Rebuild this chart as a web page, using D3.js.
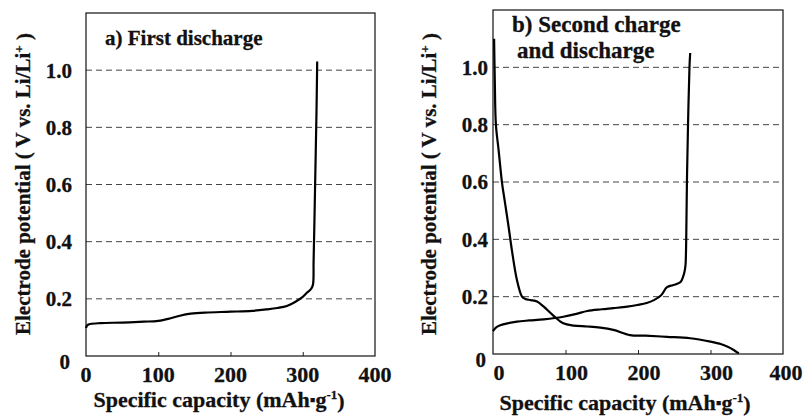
<!DOCTYPE html>
<html>
<head>
<meta charset="utf-8">
<script src="https://cdn.jsdelivr.net/npm/d3@7"></script>
<style>
  body { margin: 0; background: #fff; }
</style>
</head>
<body>
<div id="chart"></div>
<script>
// Data
//= ================================
var capTicks = [0, 100, 200, 300, 400];
var voltTicks = [0, 0.2, 0.4, 0.6, 0.8, 1.0];
var voltTickLabels = ["0", "0.2", "0.4", "0.6", "0.8", "1.0"];

// a) first discharge
var capFirst = [0, 2, 6, 20, 50, 80, 100, 117, 130, 145, 165, 200, 230, 250, 265, 278, 290, 300, 306, 311, 314, 315, 316, 317.5, 319, 320];
var voltFirst = [0.098, 0.108, 0.112, 0.115, 0.117, 0.12, 0.123, 0.132, 0.141, 0.148, 0.152, 0.155, 0.158, 0.163, 0.168, 0.175, 0.19, 0.207, 0.222, 0.233, 0.248, 0.33, 0.45, 0.65, 0.85, 1.03];

// b) second discharge (rising curve)
var capSecondDis = [0, 4, 10, 20, 33, 50, 70, 97, 115, 130, 150, 166, 185, 199, 212, 222, 232, 240, 248, 254, 259, 262, 264, 265.5, 266.5, 267.5, 269, 271, 272];
var voltSecondDis = [0.08, 0.092, 0.1, 0.107, 0.113, 0.117, 0.121, 0.13, 0.14, 0.15, 0.156, 0.16, 0.165, 0.171, 0.178, 0.188, 0.205, 0.233, 0.24, 0.245, 0.252, 0.268, 0.285, 0.31, 0.4, 0.6, 0.8, 1.0, 1.05];

// b) second charge (falling curve)
var capSecondCh = [1.5, 2.5, 4, 7.7, 12.4, 16, 21.5, 26, 33, 40, 44.5, 52, 60.7, 70, 83.6, 97, 111, 130, 148, 166, 189, 210, 240, 272, 300, 315, 323, 332, 339];
var voltSecondCh = [1.1, 0.95, 0.8, 0.712, 0.598, 0.537, 0.444, 0.363, 0.258, 0.2, 0.192, 0.188, 0.183, 0.165, 0.133, 0.107, 0.099, 0.096, 0.092, 0.084, 0.066, 0.064, 0.06, 0.055, 0.043, 0.034, 0.026, 0.014, 0.002];

var svgWidth = 805;
var svgHeight = 416;

var svg = d3.select("#chart")
  .append("svg")
  .attr("width", svgWidth)
  .attr("height", svgHeight)
  .style("font-family", "'Liberation Serif', 'Times New Roman', serif")
  .style("font-weight", "bold");

// Panel layout (pixel frames of the two plots)
//= ================================
var panels = [
  {
    left: 86, right: 375, top: 13, bottom: 356,
    yLabelX: 72, xLabelDx: 0, titleX: 105, titleSize: 21,
    titles: [{ y: 45, dx: 0, text: "a) First discharge" }],
    yTitleX: 23, xTitleX: 219, xTitleY: 407,
    series: [[capFirst, voltFirst]]
  },
  {
    left: 493, right: 783, top: 10, bottom: 354,
    yLabelX: 488, xLabelDx: 6, titleX: 512, titleSize: 23,
    titles: [{ y: 32, dx: 0, text: "b) Second charge" }, { y: 58, dx: 5, text: "and discharge" }],
    yTitleX: 429, xTitleX: 625, xTitleY: 410,
    series: [[capSecondDis, voltSecondDis], [capSecondCh, voltSecondCh]]
  }
];

panels.forEach(function (p) {

  var xScale = d3.scaleLinear()
    .domain([0, 400])
    .range([p.left, p.right]);

  var yScale = d3.scaleLinear()
    .domain([0, 1.2])
    .range([p.bottom, p.top]);

  var g = svg.append("g")
    .attr("fill", "#111")
    .attr("stroke-width", 0.3);

  // dashed grid lines
  g.selectAll(".grid")
    .data(voltTicks.slice(1))
    .enter()
    .append("line")
    .attr("x1", p.left)
    .attr("x2", p.right)
    .attr("y1", d => yScale(d))
    .attr("y2", d => yScale(d))
    .attr("stroke", "#444")
    .attr("stroke-width", 1)
    .attr("stroke-dasharray", "6,4");

  // bottom axis: small inward ticks, labels drawn separately
  var bottomAxis = d3.axisBottom(xScale)
    .tickValues(capTicks.slice(1, 4))
    .tickSizeInner(-4)
    .tickSizeOuter(0)
    .tickFormat("");

  var xAxis = g.append("g")
    .attr("transform", `translate(0, ${p.bottom})`)
    .call(bottomAxis);
  xAxis.select(".domain").remove();
  xAxis.selectAll("line").attr("stroke", "#222").attr("stroke-width", 1);

  // frame
  g.append("rect")
    .attr("x", p.left)
    .attr("y", p.top)
    .attr("width", p.right - p.left)
    .attr("height", p.bottom - p.top)
    .attr("fill", "none")
    .attr("stroke", "#111")
    .attr("stroke-width", 1.2);

  // x tick labels
  g.selectAll(".xlab")
    .data(capTicks)
    .enter()
    .append("text")
    .attr("x", d => Math.min(xScale(d) + p.xLabelDx, 786))
    .attr("y", p.bottom + 26)
    .attr("text-anchor", "middle")
    .attr("font-size", "22px")
    .attr("stroke", "#111")
    .text(d => d);

  // y tick labels
  g.selectAll(".ylab")
    .data(voltTicks)
    .enter()
    .append("text")
    .attr("x", d => d === 0 ? p.yLabelX - 2 : p.yLabelX)
    .attr("y", d => d === 0 ? yScale(d) + 6 : yScale(d))
    .attr("dy", "0.35em")
    .attr("text-anchor", "end")
    .attr("font-size", "21px")
    .attr("stroke", "#111")
    .text((d, i) => voltTickLabels[i]);

  // curves
  var line = d3.line()
    .x(d => xScale(d[0]))
    .y(d => yScale(d[1]))
    .curve(d3.curveCatmullRom.alpha(0.5));

  p.series.forEach(function (s) {
    var pts = s[0].map((c, i) => [c, s[1][i]]);
    g.append("path")
      .datum(pts)
      .attr("d", line)
      .attr("fill", "none")
      .attr("stroke", "#000")
      .attr("stroke-width", 2.2)
      .attr("stroke-linejoin", "round");
  });

  // panel title
  p.titles.forEach(function (t) {
    g.append("text")
      .attr("x", p.titleX + t.dx)
      .attr("y", t.y)
      .attr("font-size", p.titleSize + "px")
      .attr("stroke", "#111")
      .text(t.text);
  });

  // y axis title
  var yTitle = g.append("text")
    .attr("transform", `translate(${p.yTitleX}, ${(30 + 338) / 2}) rotate(-90)`)
    .attr("dy", "0.35em")
    .attr("text-anchor", "middle")
    .attr("font-size", "21px")
    .attr("stroke", "#111");
  yTitle.append("tspan").text("Electrode potential ( V vs. Li/Li");
  yTitle.append("tspan").attr("font-size", "13px").attr("dy", "-0.6em").text("+");
  yTitle.append("tspan").attr("dy", "0.4em").text(" )");

  // x axis title
  var xTitle = g.append("text")
    .attr("x", p.xTitleX)
    .attr("y", p.xTitleY)
    .attr("text-anchor", "middle")
    .attr("font-size", "22px")
    .attr("stroke", "#111");
  xTitle.append("tspan").text("Specific capacity (mAh");
  xTitle.append("tspan").attr("font-size", "16px").attr("dy", "-0.15em").text("\u25AA");
  xTitle.append("tspan").attr("dy", "0.1em").text("g");
  xTitle.append("tspan").attr("font-size", "13px").attr("dy", "-0.6em").text("-1");
  xTitle.append("tspan").attr("dy", "0.4em").text(")");
});
</script>
</body>
</html>
